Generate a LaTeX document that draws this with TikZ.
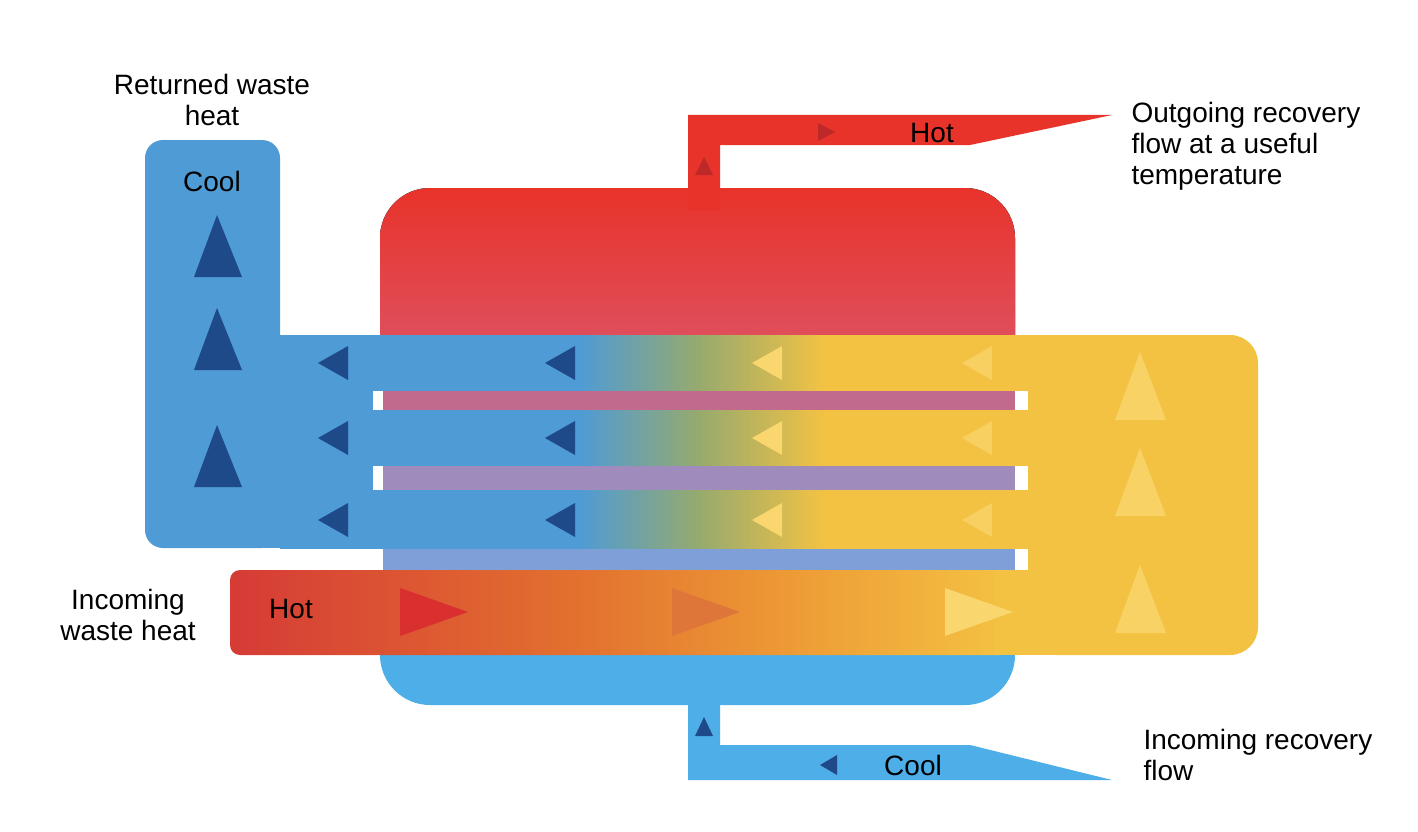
\documentclass[tikz,border=0pt]{standalone}
\usepackage{fontspec}
\setmainfont{Liberation Sans}
\definecolor{cblue}{HTML}{4F9BD5}
\definecolor{lblue}{HTML}{4EAEE8}
\definecolor{cyel}{HTML}{F4C243}
\definecolor{cred}{HTML}{E8332A}
\definecolor{dblue}{HTML}{1F4A8A}
\definecolor{lyel}{HTML}{F9D66E}
\definecolor{hred}{HTML}{D63B36}
\definecolor{tpink}{RGB}{220,90,112}
\definecolor{s1}{RGB}{194,106,142}
\definecolor{s2}{RGB}{160,139,189}
\definecolor{s3}{RGB}{126,159,216}
\definecolor{ar1}{RGB}{217,48,47}
\definecolor{ar2}{RGB}{222,118,58}
\definecolor{ar3}{RGB}{190,40,40}
\definecolor{mid}{RGB}{150,170,110}
\definecolor{or1}{RGB}{226,112,47}
\definecolor{or2}{RGB}{238,158,54}
\pgfdeclarehorizontalshading{chan}{100bp}{color(0bp)=(cblue); color(45bp)=(cblue); color(53bp)=(mid); color(61.5bp)=(cyel); color(100bp)=(cyel)}
\pgfdeclarehorizontalshading{hot}{100bp}{color(0bp)=(hred); color(25bp)=(hred); color(47bp)=(or1); color(62bp)=(or2); color(75bp)=(cyel); color(100bp)=(cyel)}
\tikzset{lbl/.style={font=\fontsize{28}{31}\selectfont, align=center, text=black},
 tri/.style={fill=dblue}}
\begin{document}
\begin{tikzpicture}[x=1pt,y=-1pt]
\useasboundingbox (0,0) rectangle (1418,832);
\fill[white] (0,0) rectangle (1418,832);
% tank
\fill[lblue, rounded corners=50] (380,188) rectangle (1015,705);
\fill[top color=cred, bottom color=tpink, rounded corners=50] (380,188) rectangle (1015,400);
\fill[white] (373,390) rectangle (1028,410);
\fill[white] (373,465) rectangle (1028,490);
\fill[white] (373,548) rectangle (1028,570);
\fill[s1] (383,390) rectangle (1015,410);
\fill[s2] (383,465) rectangle (1015,490);
\fill[s3] (383,548) rectangle (1015,570);
% right yellow
\fill[cyel, rounded corners=28] (1028,335) rectangle (1258,655);
\fill[cyel] (1028,335) rectangle (1100,655);
% left blue L
\fill[cblue, rounded corners=18] (145,140) rectangle (280,548);
\fill[cblue] (260,335) rectangle (373,548);
% channels
\path[shading=chan] (280,335) rectangle (1028,390);
\path[shading=chan] (280,410) rectangle (1028,465);
\path[shading=chan] (280,490) rectangle (1028,548);
% hot pipe
\path[shading=hot, rounded corners=10] (230,570) rectangle (1010,655);
\fill[cyel] (995,570) rectangle (1030,655);
% pipes
\fill[cred] (688,210) -- (688,115) -- (1112,115) -- (970,145) -- (720,145) -- (720,210) -- cycle;
\fill[lblue] (688,700) -- (688,780) -- (1112,780) -- (970,745) -- (720,745) -- (720,700) -- cycle;
% up arrows left
\foreach \y in {215,308,425} \fill[tri] (217,\y) -- (194,\y+62) -- (242,\y+62) -- cycle;
% left arrows
\foreach \y in {363,438,520}{
 \fill[tri] (318,\y) -- (348,\y-17) -- (348,\y+17) -- cycle;
 \fill[tri] (545,\y) -- (575,\y-17) -- (575,\y+17) -- cycle;
 \fill[lyel] (752,\y) -- (782,\y-17) -- (782,\y+17) -- cycle;
 \fill[lyel!70!cyel] (962,\y) -- (992,\y-17) -- (992,\y+17) -- cycle;}
\foreach \y in {352,448,565} \fill[lyel!80!cyel] (1140,\y) -- (1115,\y+68) -- (1166,\y+68) -- cycle;
% hot arrows
\fill[ar1] (400,588) -- (468,612) -- (400,636) -- cycle;
\fill[ar2] (672,588) -- (740,612) -- (672,636) -- cycle;
\fill[lyel] (945,588) -- (1013,612) -- (945,636) -- cycle;
% small arrows
\fill[ar3] (818,123) -- (835,132) -- (818,141) -- cycle;
\fill[ar3] (704,157) -- (695,175) -- (713,175) -- cycle;
\fill[tri] (704,717) -- (695,736) -- (713,736) -- cycle;
\fill[tri] (820,765) -- (837,755) -- (837,775) -- cycle;
% texts
\node[lbl] (t1) at (212,100) {Returned waste\\heat};
\node[lbl] (t2) at (212,181) {Cool};
\node[lbl] (t3) at (932,133) {Hot};
\node[lbl, align=left, anchor=west] (t4) at (1128,146) {Outgoing recovery\\flow at a useful\\temperature};
\node[lbl] (t5) at (128,615) {Incoming\\waste heat};
\node[lbl] (t6) at (291,609) {Hot};
\node[lbl] (t7) at (913,765) {Cool};
\node[lbl, align=left, anchor=west] (t8) at (1140,755) {Incoming recovery\\flow};
\end{tikzpicture}
\end{document}
